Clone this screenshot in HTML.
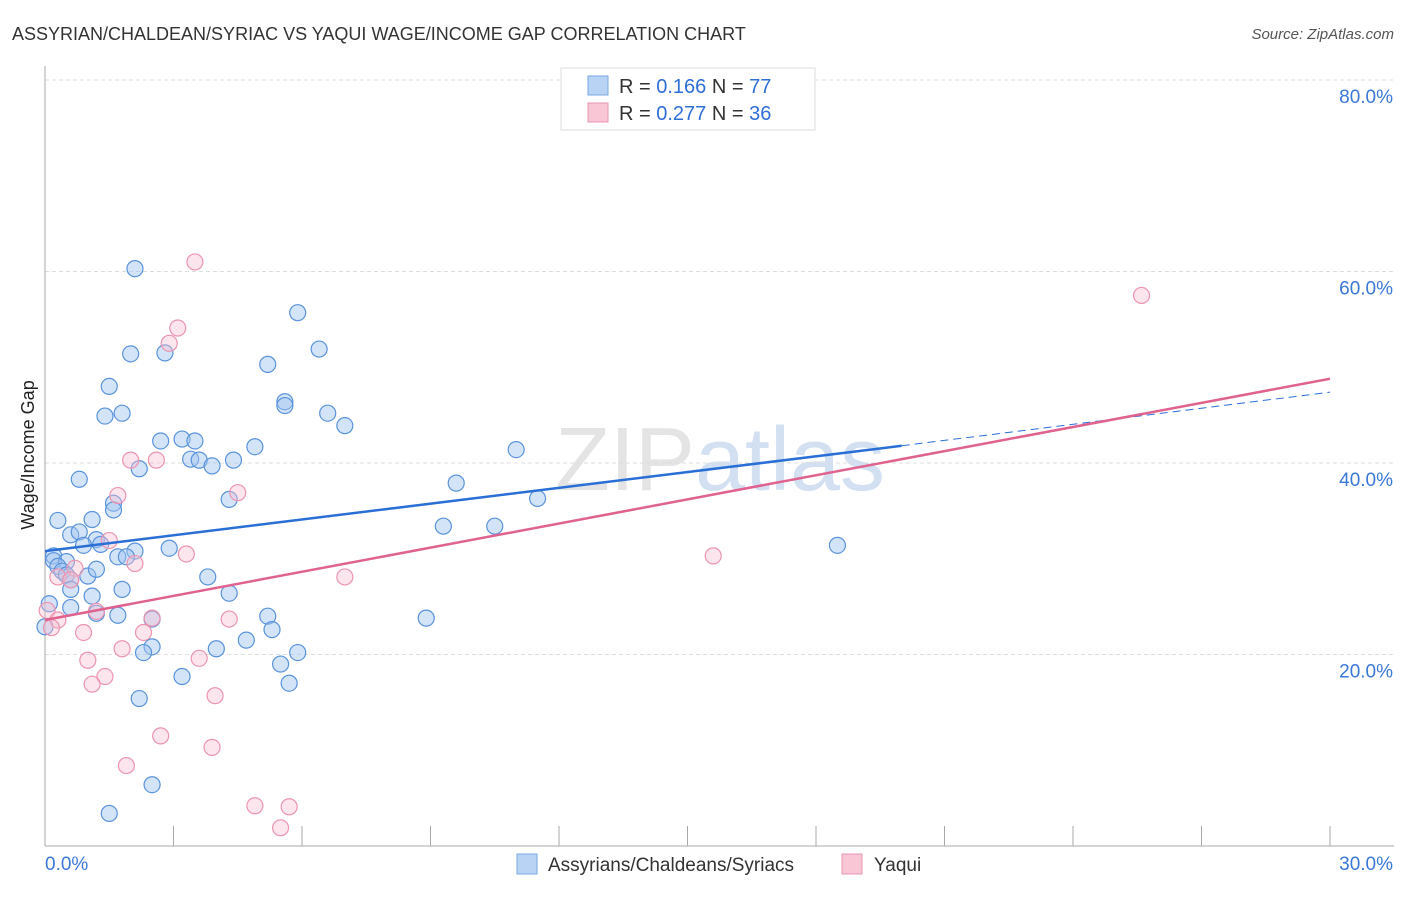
<!DOCTYPE html>
<html><head><meta charset="utf-8"><style>
body{margin:0;background:#fff;font-family:"Liberation Sans",sans-serif;}
svg text{font-family:"Liberation Sans",sans-serif;}
</style></head><body>
<svg id="chart" width="1406" height="892">
<text x="12" y="40" font-size="18" fill="#333">ASSYRIAN/CHALDEAN/SYRIAC VS YAQUI WAGE/INCOME GAP CORRELATION CHART</text>
<text x="1394" y="39" font-size="15" fill="#555" text-anchor="end" font-style="italic">Source: ZipAtlas.com</text>
<text x="720" y="490" font-size="90" fill="#e4e4e4" text-anchor="middle" font-family="Liberation Serif">ZIP<tspan fill="#d2e0f2" font-family="Liberation Sans">atlas</tspan></text>
<g id="grid"></g><g id="axes"></g><g id="pts"></g><g id="lines"></g>
<text transform="translate(34,455) rotate(-90)" font-size="18" fill="#222" text-anchor="middle">Wage/Income Gap</text>
<g>
<rect x="561" y="68" width="254" height="62" fill="#fff" stroke="#ddd"/>
<rect x="588" y="76" width="20" height="19" fill="#b8d3f4" stroke="#7aa8e0"/>
<text x="619" y="93" font-size="20" fill="#333">R = <tspan fill="#2f6fd6">0.166</tspan>   N = <tspan fill="#2f6fd6">77</tspan></text>
<rect x="588" y="103" width="20" height="19" fill="#f8c6d5" stroke="#e896b0"/>
<text x="619" y="120" font-size="20" fill="#333">R = <tspan fill="#2f6fd6">0.277</tspan>   N = <tspan fill="#2f6fd6">36</tspan></text>
</g>
<g>
<rect x="517" y="854" width="20" height="20" fill="#b8d3f4" stroke="#7aa8e0"/>
<text x="548" y="871" font-size="19" fill="#333">Assyrians/Chaldeans/Syriacs</text>
<rect x="842" y="854" width="20" height="20" fill="#f8c6d5" stroke="#e896b0"/>
<text x="874" y="871" font-size="19" fill="#333">Yaqui</text>
</g>
</svg>
<script>
const yTicks=[20,40,60,80];
const yTickLabels=["20.0%","40.0%","60.0%","80.0%"];
const xTickVals=[0,3,6,9,12,15,18,21,24,27,30];
const blueX=[2.1,5.9,6.4,2.0,2.8,5.2,1.5,5.6,5.6,1.4,1.8,6.6,7.0,2.7,3.2,3.5,4.9,11.0,3.4,3.6,4.4,3.9,2.2,0.8,9.6,4.3,1.6,1.6,0.3,1.1,9.3,10.5,11.5,0.6,0.8,1.2,0.9,1.3,2.1,2.9,1.7,1.9,18.5,0.2,0.2,0.5,0.3,0.4,1.0,1.2,0.5,3.8,0.6,1.8,4.3,1.1,0.6,0.1,0.6,1.2,1.7,2.5,5.2,8.9,0.0,5.3,4.7,2.5,2.3,4.0,5.9,5.5,3.2,5.7,2.2,2.5,1.5];
const blueY=[60.3,55.7,51.9,51.4,51.5,50.3,48.0,46.4,46.0,44.9,45.2,45.2,43.9,42.3,42.5,42.3,41.7,41.4,40.4,40.3,40.3,39.7,39.4,38.3,37.9,36.2,35.8,35.1,34.0,34.1,33.4,33.4,36.3,32.5,32.8,32.0,31.4,31.5,30.8,31.1,30.2,30.2,31.4,30.3,29.8,29.7,29.2,28.7,28.2,28.9,28.3,28.1,27.8,26.8,26.4,26.1,26.8,25.3,24.9,24.3,24.1,23.7,24.0,23.8,22.9,22.6,21.5,20.8,20.2,20.6,20.2,19.0,17.7,17.0,15.4,6.4,3.4];
const pinkX=[3.5,25.6,3.1,2.9,2.0,2.6,1.7,4.5,1.5,3.3,2.1,15.6,0.7,0.3,0.6,7.0,0.05,1.2,0.3,2.5,4.3,0.9,2.3,0.15,1.0,3.6,1.8,1.4,1.1,3.97,2.7,3.9,1.9,4.9,5.7,5.5];
const pinkY=[61.0,57.5,54.1,52.5,40.3,40.3,36.6,36.9,31.9,30.5,29.5,30.3,29.0,28.1,27.8,28.1,24.6,24.5,23.6,23.8,23.7,22.3,22.3,22.8,19.4,19.6,20.6,17.7,16.9,15.7,11.5,10.3,8.4,4.2,4.1,1.9];
const blueFit=[30.8,41.8,47.4], blueFitX=[0,20,30];
const pinkFit=[23.6,48.8], pinkFitX=[0,30];
const NS="http://www.w3.org/2000/svg";
const X0=45,X1=1330,Y0=846,PY=9.575;
const xs=v=>X0+(X1-X0)*v/30, ys=v=>Y0-v*PY;
function mk(tag,attrs,parent){const e=document.createElementNS(NS,tag);for(const k in attrs)e.setAttribute(k,attrs[k]);document.getElementById(parent).appendChild(e);return e;}
yTicks.forEach((t,i)=>{
 const g=mk('line',{x1:45,x2:1394,y1:ys(t),y2:ys(t),stroke:'#ddd','stroke-dasharray':'4,3'},'grid');
 
 
 const l=mk('text',{x:1393,y:ys(t)+23,'text-anchor':'end','font-size':19,fill:'#3b78d8'},'grid');l.textContent=yTickLabels[i];
 
 
});
const ax=mk('line',{x1:45,x2:45,y1:66,y2:846,stroke:'#aaa'},'axes');


const bx=mk('line',{x1:45,x2:1394,y1:846,y2:846,stroke:'#aaa'},'axes');


xTickVals.forEach(v=>{if(v===0)return;const t=mk('line',{x1:xs(v),x2:xs(v),y1:826,y2:846,stroke:'#aaa'},'axes');
 
 });
let t0=mk('text',{x:45,y:870,'font-size':19,fill:'#3b78d8'},'axes');t0.textContent='0.0%';


let t1=mk('text',{x:1393,y:870,'font-size':19,fill:'#3b78d8','text-anchor':'end'},'axes');t1.textContent='30.0%';


blueX.forEach((v,i)=>{const c=mk('circle',{cx:xs(v),cy:ys(blueY[i]),r:8,fill:'rgba(160,196,240,0.45)',stroke:'#5a93dc','stroke-width':1.2},'pts');
 
 });
pinkX.forEach((v,i)=>{const c=mk('circle',{cx:xs(v),cy:ys(pinkY[i]),r:8,fill:'rgba(248,190,208,0.4)',stroke:'#ec94b0','stroke-width':1.2},'pts');
 
 });
const b1=mk('line',{x1:xs(blueFitX[0]),y1:ys(blueFit[0]),x2:xs(blueFitX[1]),y2:ys(blueFit[1]),stroke:'#2a6fd6','stroke-width':2.5},'lines');


const b2=mk('line',{x1:xs(blueFitX[1]),y1:ys(blueFit[1]),x2:xs(blueFitX[2]),y2:ys(blueFit[2]),stroke:'#2a6fd6','stroke-width':1,'stroke-dasharray':'8,5'},'lines');


const p1=mk('line',{x1:xs(pinkFitX[0]),y1:ys(pinkFit[0]),x2:xs(pinkFitX[1]),y2:ys(pinkFit[1]),stroke:'#e0628f','stroke-width':2.5},'lines');


</script>
</body></html>
